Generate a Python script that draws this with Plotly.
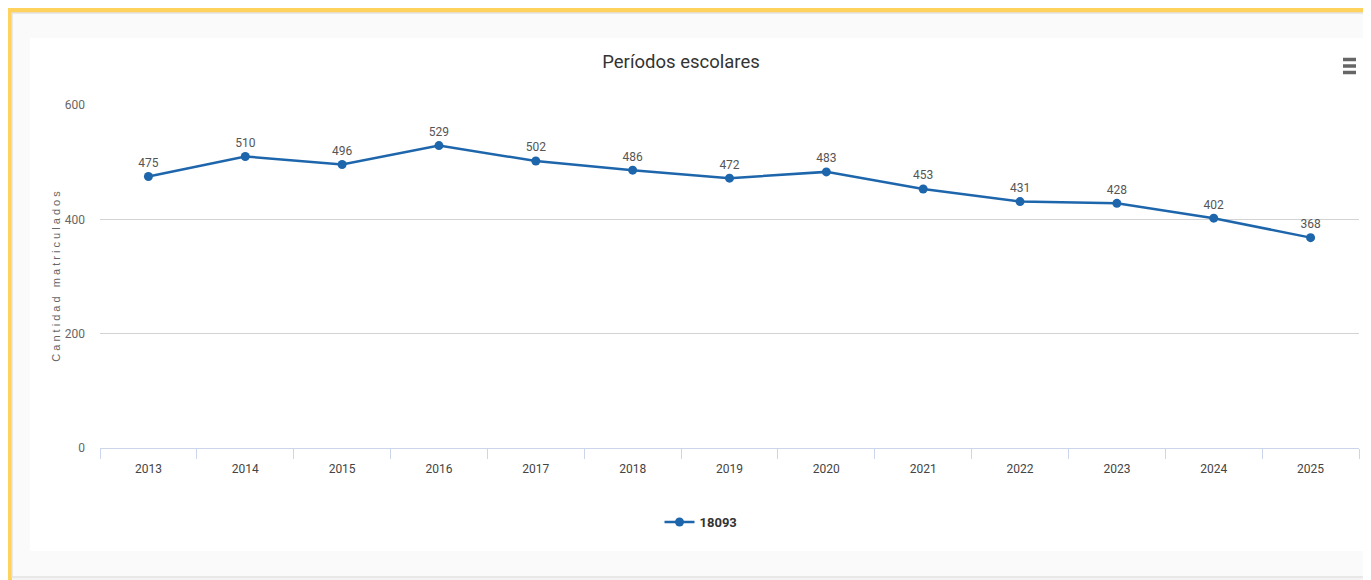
import plotly.graph_objects as go

years = ['2013', '2014', '2015', '2016', '2017', '2018', '2019',
         '2020', '2021', '2022', '2023', '2024', '2025']
matriculados = [475, 510, 496, 529, 502, 486, 472, 483, 453, 431, 428, 402, 368]
serie_nombre = '18093'
y_ticks = [0, 200, 400, 600]

# the page body has an 8px margin, so the figure starts at (8, 8) in the window
OFF = 8
W, H = 1371 - OFF, 580 - OFF
L, R, T, B = 100, 1359, 105, 448   # plot area in window pixels

def px_x(p):
    return (p - L) / (R - L)

def px_y(p):
    return (B - p) / (B - T)

narrow = "Roboto, Liberation Sans, sans-serif"
line_color = '#1E66AC'

fig = go.Figure(go.Scatter(
    x=years,
    y=matriculados,
    name=serie_nombre,
    mode='lines+markers+text',
    text=[str(v) for v in matriculados],
    textposition='top center',
    textfont=dict(family=narrow, size=12, color='#555555'),
    line=dict(color=line_color, width=2.5),
    marker=dict(color=line_color, size=9),
    cliponaxis=False,
))

shapes = [
    # page area below / right of the panel
    dict(type='rect', xref='paper', yref='paper', layer='below',
         x0=px_x(12), x1=px_x(1400), y0=px_y(13), y1=px_y(600),
         fillcolor='#F4F4F4', line=dict(width=0)),
    # outer panel
    dict(type='rect', xref='paper', yref='paper', layer='below',
         x0=px_x(12), x1=px_x(1380), y0=px_y(13), y1=px_y(577),
         fillcolor='#FAFAFA', line=dict(color='#E2E2E2', width=1.5)),
    # white chart card
    dict(type='rect', xref='paper', yref='paper', layer='below',
         x0=px_x(30), x1=px_x(1367), y0=px_y(38), y1=px_y(551),
         fillcolor='white', line=dict(width=0)),
]
# hamburger menu icon
for yy in (59.5, 66, 72.5):
    shapes.append(dict(type='line', xref='paper', yref='paper',
                       x0=px_x(1343), x1=px_x(1356), y0=px_y(yy), y1=px_y(yy),
                       line=dict(color='#666666', width=3.5)))

fig.update_layout(
    width=W, height=H,
    margin=dict(l=L - OFF, r=1371 - R, t=T - OFF, b=580 - B),
    paper_bgcolor='#FFD25E',
    plot_bgcolor='white',
    shapes=shapes,
    title=dict(text='Períodos escolares', x=px_x(681), xref='paper', xanchor='center',
               y=1 - (62 - OFF) / H, yanchor='middle',
               font=dict(family=narrow, size=18.5, color='#333333')),
    showlegend=True,
    legend=dict(orientation='h', x=px_x(701), xanchor='center',
                y=px_y(522), yanchor='middle', itemwidth=30,
                font=dict(family=narrow, size=13, color='#333333', weight='bold'),
                bgcolor='rgba(0,0,0,0)'),
    xaxis=dict(
        type='category',
        range=[-0.5, len(years) - 0.5],
        tickson='boundaries',
        ticks='outside', ticklen=10, tickcolor='#CCD6EB', tickwidth=1,
        showline=True, linecolor='#CCD6EB', linewidth=1,
        showgrid=False,
        tickfont=dict(family=narrow, size=12, color='#444444'),
        ticklabelstandoff=10,
    ),
    yaxis=dict(
        range=[0, 600],
        tickvals=y_ticks,
        showgrid=True, gridcolor='#D3D3D3', gridwidth=1,
        zeroline=False,
        tickfont=dict(family=narrow, size=12, color='#666666'),
        ticklabelstandoff=14,
        title=dict(text='C a n t i d a d   m a t r i c u l a d o s',
                   font=dict(family='Liberation Sans, sans-serif', size=11, color='#666666'),
                   standoff=1),
    ),
)

fig.write_html("out.html")
